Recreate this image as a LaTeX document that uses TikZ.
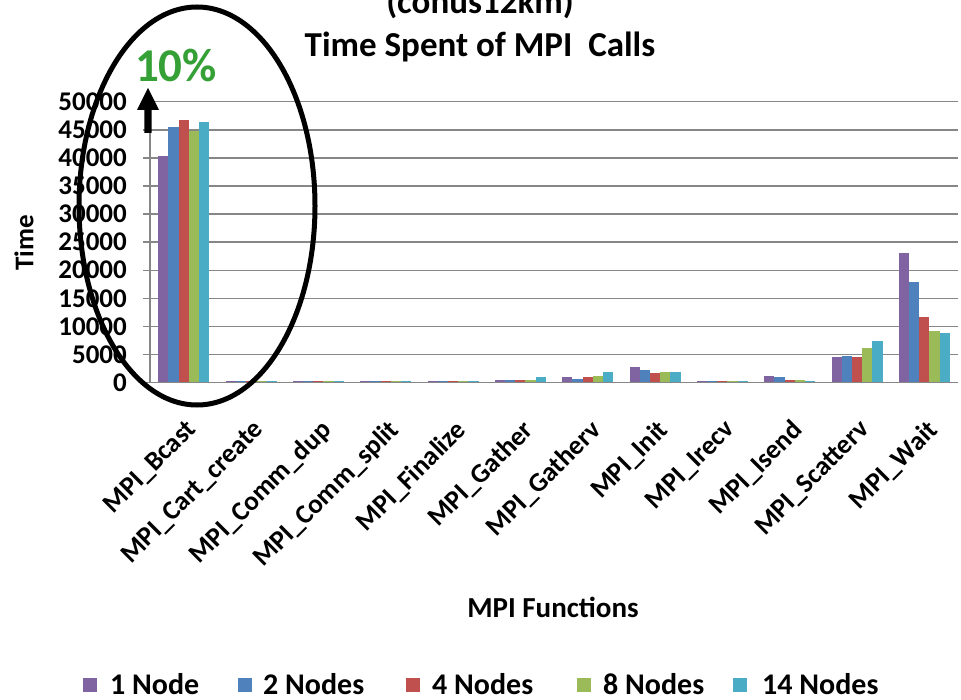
\documentclass[tikz,border=0pt]{standalone}
\usepackage{fontspec}
\setmainfont{Carlito}
\definecolor{s0}{HTML}{8064A2}
\definecolor{s1}{HTML}{4F81BD}
\definecolor{s2}{HTML}{C0504D}
\definecolor{s3}{HTML}{9BBB59}
\definecolor{s4}{HTML}{4BACC6}
\definecolor{gridgray}{HTML}{878787}
\definecolor{pctgreen}{HTML}{35A035}
\tikzset{
  grid/.style={draw=gridgray,line width=1.5},
  ticklab/.style={font=\fontsize{27}{30}\selectfont\bfseries,anchor=base east,inner sep=0},
  catlab/.style={font=\fontsize{27}{30}\selectfont\bfseries,anchor=north east,rotate=45,inner sep=0},
  leglab/.style={font=\fontsize{30}{34}\selectfont\bfseries,anchor=base west,inner sep=0},
}
\begin{document}
\begin{tikzpicture}[x=1pt,y=-1pt]
\useasboundingbox (0,0) rectangle (961,700);
% title
\node[font=\fontsize{35}{40}\selectfont\bfseries,anchor=base,inner sep=0] (title1) at (480,14) {(conus12km)};
\node[font=\fontsize{35}{40}\selectfont\bfseries,anchor=base,inner sep=0] (title2) at (480,57) {Time Spent of MPI\ \ Calls};
% grid and y ticks
\foreach \i/\lab in {0/0,1/5000,2/10000,3/15000,4/20000,5/25000,6/30000,7/35000,8/40000,9/45000,10/50000}{
  \pgfmathsetmacro\yy{382.7-28.1*\i}
  \draw[grid] (143,\yy) -- (958,\yy);
  \node[ticklab] (tick\i) at (127,\yy+8.7) {\lab};
}
\draw[grid] (150,101.7) -- (150,382.7);
% bars
\foreach \c/\vals in {0/{40.3,45.5,46.7,44.8,46.3},1/{0.25,0.25,0.25,0.25,0.25},2/{0.25,0.25,0.25,0.25,0.25},3/{0.25,0.25,0.25,0.25,0.25},4/{0.25,0.25,0.25,0.25,0.25},5/{0.48,0.48,0.42,0.42,0.95},6/{0.95,0.7,0.95,1.19,1.84},7/{2.79,2.31,1.66,1.84,1.84},8/{0.3,0.3,0.3,0.3,0.3},9/{1.19,0.95,0.47,0.47,0.3},10/{4.57,4.8,4.57,6.17,7.35},11/{23.0,17.85,11.62,9.2,8.9}}{
  \foreach \v [count=\k from 0] in \vals {
    \pgfmathsetmacro\xl{150+67.333*(\c+0.5)-25.5+10.2*\k}
    \pgfmathsetmacro\yt{382.7-5.62*\v}
    \fill[s\k] (\xl,382.7) rectangle (\xl+10.2,\yt);
  }
}
\draw[grid] (150,382.7) -- (958,382.7);
% category labels
\foreach \c/\name in {0/MPI\_Bcast,1/MPI\_Cart\_create,2/MPI\_Comm\_dup,3/MPI\_Comm\_split,4/MPI\_Finalize,5/MPI\_Gather,6/MPI\_Gatherv,7/MPI\_Init,8/MPI\_Irecv,9/MPI\_Isend,10/MPI\_Scatterv,11/MPI\_Wait}{
  \pgfmathsetmacro\xc{150+67.333*(\c+0.5)}
  \node[catlab] (cat\c) at (\xc+1,418) {\name};
}
% axis titles
\node[font=\fontsize{27}{30}\selectfont\bfseries,rotate=90,inner sep=0] (ytitle) at (24,243) {Time};
\node[font=\fontsize{29}{32}\selectfont\bfseries,anchor=base,inner sep=0] (xtitle) at (553,617) {MPI Functions};
% legend
\foreach \i/\sx/\tx/\lab in {0/83/110/1 Node,1/238/263/2 Nodes,2/406/432/4 Nodes,3/577/603/8 Nodes,4/733/762/14 Nodes}{
  \fill[s\i] (\sx,678) rectangle (\sx+14,692);
  \node[leglab] (leg\i) at (\tx,694) {\lab};
}
% annotation
\draw[line width=5] (197,206) ellipse [x radius=118, y radius=199];
\fill (144.3,133) -- (144.3,110) -- (137,110) -- (148,88) -- (159,110) -- (151.7,110) -- (151.7,133) -- cycle;
\node[font=\fontsize{47}{50}\selectfont\bfseries,text=pctgreen,inner sep=0] (pct) at (176,65) {10\%};
\end{tikzpicture}
\end{document}
